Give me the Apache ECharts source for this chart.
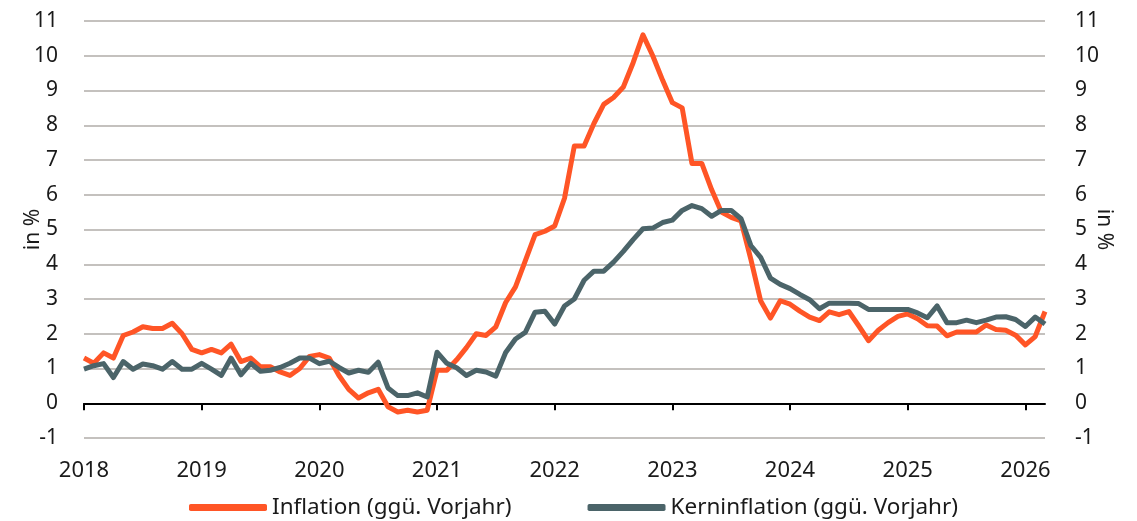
<!DOCTYPE html>
<html>
<head>
<meta charset="utf-8">
<script src="https://cdn.jsdelivr.net/npm/echarts@6/dist/echarts.min.js"></script>
<style>
  html, body { margin: 0; padding: 0; background: #fff; }
  #inflationChart { width: 1137px; height: 521px; }
</style>
</head>
<body>
<div id="inflationChart"></div>
<script>
// Monatswerte Jan 2018 - Mär 2026
const startYear = 2018
const monthCount = 99
const yTicks = { min: -1, max: 11, step: 1 }

const inflation = [
  1.3, 1.15, 1.45, 1.3, 1.95, 2.05, 2.2, 2.15, 2.15, 2.3, 2.0, 1.55,
  1.45, 1.55, 1.45, 1.7, 1.2, 1.3, 1.05, 1.05, 0.9, 0.8, 1.0, 1.35,
  1.4, 1.3, 0.8, 0.4, 0.15, 0.3, 0.4, -0.1, -0.25, -0.2, -0.25, -0.2,
  0.95, 0.95, 1.25, 1.6, 2.0, 1.95, 2.2, 2.9, 3.35, 4.1, 4.85, 4.95,
  5.1, 5.9, 7.4, 7.4, 8.05, 8.6, 8.8, 9.1, 9.8, 10.6, 10.0, 9.3,
  8.65, 8.5, 6.9, 6.9, 6.15, 5.5, 5.35, 5.25, 4.15, 2.95, 2.45, 2.95,
  2.85, 2.65, 2.48, 2.38, 2.63, 2.55, 2.64, 2.23, 1.8, 2.1, 2.32, 2.5,
  2.57, 2.43, 2.23, 2.22, 1.94, 2.05, 2.05, 2.05, 2.25, 2.12, 2.1, 1.96,
  1.68, 1.92, 2.64
]

const coreInflation = [
  0.98, 1.08, 1.14, 0.74, 1.2, 0.98, 1.13, 1.08, 0.98, 1.2, 0.98, 0.98,
  1.15, 0.98, 0.8, 1.3, 0.82, 1.15, 0.92, 0.95, 1.03, 1.15, 1.3, 1.3,
  1.14, 1.21, 1.03, 0.87, 0.95, 0.89, 1.18, 0.44, 0.22, 0.22, 0.3, 0.18,
  1.47, 1.15, 1.02, 0.8, 0.95, 0.9, 0.78, 1.46, 1.85, 2.04, 2.62, 2.65,
  2.28, 2.8, 3.0, 3.54, 3.8, 3.8, 4.06, 4.37, 4.71, 5.02, 5.04, 5.2,
  5.27, 5.55, 5.69, 5.6, 5.38, 5.55, 5.55, 5.31, 4.54, 4.2, 3.6, 3.42,
  3.3, 3.13, 2.98, 2.72, 2.88, 2.88, 2.88, 2.87, 2.7, 2.7, 2.7, 2.7,
  2.7, 2.6, 2.46, 2.8, 2.32, 2.32, 2.39, 2.32, 2.39, 2.48, 2.49, 2.41,
  2.21, 2.48, 2.28
]

const months = []
for (let i = 0; i < monthCount; i++) {
  const y = startYear + Math.floor(i / 12)
  const m = (i % 12) + 1
  months.push(y + '-' + (m < 10 ? '0' + m : m))
}

const fontFamily = '"Noto Sans", sans-serif'
const textColor = '#1a1a1a'

function valueAxis (position, nameRotate, nameGap, labelMargin) {
  return {
    type: 'value',
    position: position,
    min: yTicks.min,
    max: yTicks.max,
    interval: yTicks.step,
    name: 'in %',
    nameLocation: 'middle',
    nameRotate: nameRotate,
    nameGap: nameGap,
    nameMoveOverlap: false,
    nameTextStyle: { color: textColor, fontSize: 21, fontFamily: fontFamily },
    axisLine: { show: false },
    axisTick: { show: false },
    axisLabel: {
      color: textColor,
      fontSize: 21,
      fontFamily: fontFamily,
      margin: labelMargin
    },
    splitLine: {
      lineStyle: { color: '#c4c1be', width: 2 }
    }
  }
}

const chart = echarts.init(document.getElementById('inflationChart'))

const option = {
  backgroundColor: '#fff',
  animation: false,
  grid: {
    left: 84,
    right: 92,
    top: 21,
    bottom: 83,
    containLabel: false,
    outerBoundsMode: 'none'
  },
  legend: {
    data: ['Inflation (ggü. Vorjahr)', 'Kerninflation (ggü. Vorjahr)'],
    left: 184,
    top: 491,
    icon: 'roundRect',
    itemWidth: 78,
    itemHeight: 7,
    itemGap: 76,
    textStyle: { color: textColor, fontSize: 22.5, fontFamily: fontFamily }
  },
  xAxis: {
    type: 'category',
    data: months,
    boundaryGap: false,
    axisLine: {
      onZero: true,
      lineStyle: { color: '#000', width: 2 }
    },
    axisTick: {
      show: true,
      interval: 11,
      length: 7,
      lineStyle: { color: '#000', width: 2 }
    },
    axisLabel: {
      interval: 11,
      margin: 22,
      color: textColor,
      fontSize: 22,
      fontFamily: fontFamily,
      formatter: function (v) { return v.slice(0, 4) }
    },
    splitLine: { show: false }
  },
  yAxis: [
    valueAxis('left', 90, 40, 26),
    valueAxis('right', -90, 48, 30)
  ],
  series: [{
    name: 'Inflation (ggü. Vorjahr)',
    type: 'line',
    data: inflation,
    showSymbol: false,
    symbol: 'none',
    lineStyle: { color: '#ff5526', width: 5, join: 'round' },
    itemStyle: { color: '#ff5526' }
  }, {
    name: 'Kerninflation (ggü. Vorjahr)',
    type: 'line',
    data: coreInflation,
    showSymbol: false,
    symbol: 'none',
    lineStyle: { color: '#4b6469', width: 5, join: 'round' },
    itemStyle: { color: '#4b6469' }
  }]
}

chart.setOption(option)
</script>
</body>
</html>
